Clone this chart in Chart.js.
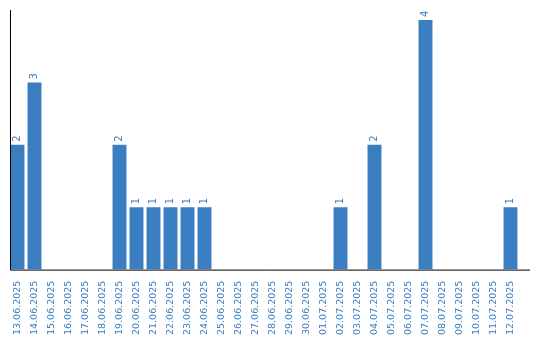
<!DOCTYPE html>
<html>
<head>
<meta charset="utf-8">
<script src="https://cdn.jsdelivr.net/npm/chart.js@4"></script>
<style>
  html, body { margin: 0; padding: 0; background: #fff; }
  #wrap { width: 540px; height: 340px; }
</style>
</head>
<body>
<div id="wrap"><canvas id="chart"></canvas></div>
<script>
// -------------------------------
// DATA
// -------------------------------
const dates = [
    "13.06.2025", "14.06.2025", "15.06.2025", "16.06.2025", "17.06.2025", "18.06.2025",
    "19.06.2025", "20.06.2025", "21.06.2025", "22.06.2025", "23.06.2025", "24.06.2025",
    "25.06.2025", "26.06.2025", "27.06.2025", "28.06.2025", "29.06.2025", "30.06.2025",
    "01.07.2025", "02.07.2025", "03.07.2025", "04.07.2025", "05.07.2025", "06.07.2025",
    "07.07.2025", "08.07.2025", "09.07.2025", "10.07.2025", "11.07.2025", "12.07.2025"
];
const counts = [
    2, 3, 0, 0, 0, 0,
    2, 1, 1, 1, 1, 1,
    0, 0, 0, 0, 0, 0,
    0, 1, 0, 2, 0, 0,
    4, 0, 0, 0, 0, 1
];

const barColor = "#3b7dc1";
const textColor = "#3a7dc0";

// -------------------------------
// PLUGINS
// -------------------------------
// value labels, rotated, just above each bar
const valueLabels = {
    id: "valueLabels",
    afterDatasetsDraw(chart) {
        const ctx = chart.ctx;
        const meta = chart.getDatasetMeta(0);
        ctx.save();
        ctx.fillStyle = textColor;
        ctx.font = "10px 'DejaVu Sans'";
        ctx.textAlign = "left";
        ctx.textBaseline = "middle";
        meta.data.forEach((bar, i) => {
            const v = counts[i];
            if (!v) return;
            ctx.save();
            ctx.translate(bar.x, bar.y - 3);
            ctx.rotate(-Math.PI / 2);
            ctx.fillText(String(v), 0, 0);
            ctx.restore();
        });
        ctx.restore();
    }
};

// axis lines: y on the left, x running a bit past the last bar
const axisLines = {
    id: "axisLines",
    afterDraw(chart) {
        const { ctx, chartArea } = chart;
        ctx.save();
        ctx.strokeStyle = "#000";
        ctx.lineWidth = 1;
        ctx.beginPath();
        ctx.moveTo(10.5, chartArea.top);
        ctx.lineTo(10.5, chartArea.bottom + 0.5);
        ctx.lineTo(530, chartArea.bottom + 0.5);
        ctx.stroke();
        ctx.restore();
    }
};

// -------------------------------
// CHART
// -------------------------------
new Chart(document.getElementById("chart"), {
    type: "bar",
    data: {
        labels: dates,
        datasets: [{
            data: counts,
            backgroundColor: barColor,
            borderWidth: 0,
            categoryPercentage: 1,
            barPercentage: 0.82
        }]
    },
    options: {
        responsive: true,
        maintainAspectRatio: false,
        animation: false,
        layout: { padding: { left: 0, top: 10, right: 21, bottom: 2 } },
        plugins: { legend: { display: false }, tooltip: { enabled: false } },
        scales: {
            x: {
                grid: { display: false },
                border: { display: false },
                ticks: {
                    color: textColor,
                    font: { family: "'DejaVu Sans'", size: 9.5 },
                    minRotation: 90,
                    maxRotation: 90,
                    autoSkip: false,
                    padding: 3
                }
            },
            y: {
                min: 0,
                max: 4.16,
                grid: { display: false },
                border: { display: false },
                ticks: { display: false },
                afterFit(scale) { scale.width = 9; }
            }
        }
    },
    plugins: [valueLabels, axisLines]
});
</script>
</body>
</html>
